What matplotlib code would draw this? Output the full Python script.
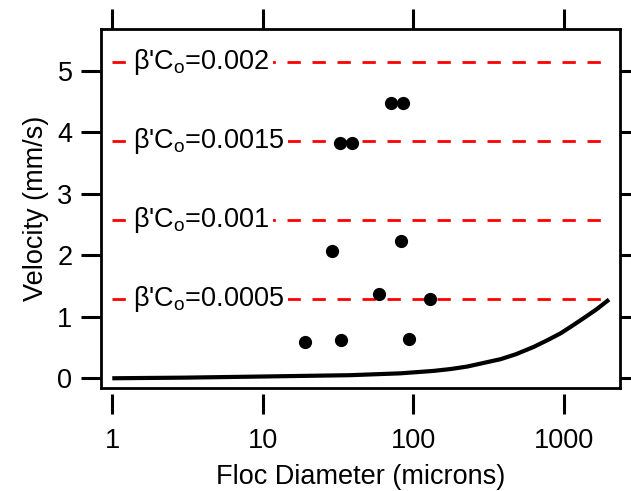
import numpy as np
import matplotlib
matplotlib.use("Agg")
import matplotlib.pyplot as plt
from matplotlib.lines import Line2D

plt.rcParams['font.family'] = ['Liberation Sans', 'DejaVu Sans']
plt.rcParams['mathtext.default'] = 'regular'

# measured floc data (diameter in microns, velocity in mm/s)
floc_diam = [71.5, 85.4, 32.4, 38.9, 28.8, 83.1, 59.2, 130, 19.1, 33.1, 93.5]
floc_vel = [4.47, 4.47, 3.83, 3.83, 2.075, 2.24, 1.366, 1.285, 0.595, 0.623, 0.639]

# reference curve
curve_diam = [1, 3, 8, 38, 82, 137, 177, 228, 380, 480, 632, 780, 952,
              1150, 1361, 1650, 2000]
curve_vel = [0.0, 0.01, 0.025, 0.05, 0.08, 0.12, 0.15, 0.19, 0.31, 0.39,
             0.51, 0.62, 0.73, 0.86, 0.98, 1.12, 1.28]

# dashed levels
level_names = ["0.0005", "0.001", "0.0015", "0.002"]
level_vel = [1.284, 2.568, 3.852, 5.136]
level_span = [1, 2000]

fig = plt.figure(figsize=(6.31, 4.91), dpi=100)
ax = fig.add_axes((0.160, 0.2092, 0.8226, 0.7311))

for name, v in zip(level_names, level_vel):
    ax.plot(level_span, [v, v], color='red', lw=2, linestyle=(0, (4.8, 4.2)),
            dash_capstyle='butt', zorder=2)
    ax.text(1.37, v, r"β'C$_o$=" + name, fontsize=19.5, ha='left', va='center',
            bbox=dict(facecolor='white', edgecolor='none', pad=2.5), zorder=3)

ax.plot(curve_diam, curve_vel, color='black', lw=3, solid_capstyle='butt',
        solid_joinstyle='round', zorder=4)
ax.plot(floc_diam, floc_vel, 'o', color='black', ms=8.5, zorder=5)

ax.set_xscale('log')
ax.set_xlim(0.841, 2366)
ax.set_ylim(-0.163, 5.675)
ax.set_xticks([1, 10, 100, 1000])
ax.set_xticklabels(['1', '10', '100', '1000'])
ax.xaxis.set_minor_locator(matplotlib.ticker.NullLocator())
ax.set_yticks([0, 1, 2, 3, 4, 5])

for s in ax.spines.values():
    s.set_linewidth(2)
# bottom ticks sit a little below the frame
ax.spines['bottom'].set_position(('outward', 4))
ax.spines['bottom'].set_color('none')
ax.add_line(Line2D([0, 1], [0, 0], transform=ax.transAxes, color='black',
                   lw=2, clip_on=False, zorder=6))

ax.tick_params(axis='both', which='major', direction='out', length=14.5,
               width=2.2, labelsize=19.5, top=True, right=True)
ax.tick_params(axis='x', pad=10)
ax.tick_params(axis='y', pad=6)

ax.set_xlabel("Floc Diameter (microns)", fontsize=19.5, labelpad=7)
ax.set_ylabel("Velocity (mm/s)", fontsize=19.5, labelpad=6)

fig.savefig("out.png", dpi=100)
